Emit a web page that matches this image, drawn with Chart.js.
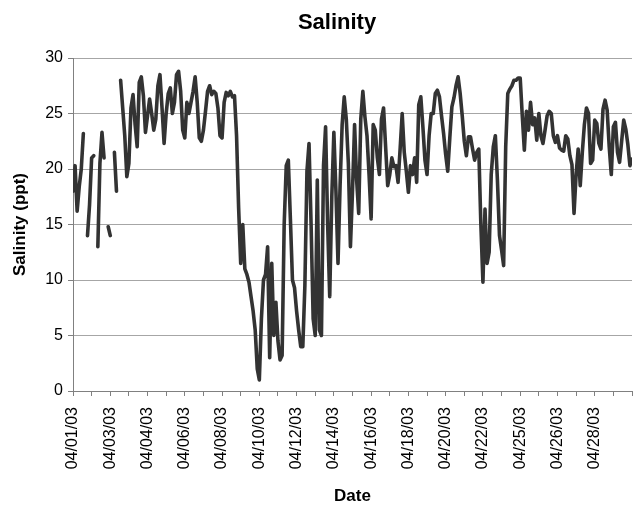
<!DOCTYPE html>
<html lang="en">
<head>
    <meta charset="UTF-8">
    <title>Salinity</title>
    <script src="https://cdn.jsdelivr.net/npm/chart.js"></script>
    <style>
        body { margin: 0; background: #fff; }
        .chart-container { width: 640px; height: 506px; position: relative; }
    </style>
</head>
<body>
    <div class="chart-container">
        <canvas id="chart"></canvas>
    </div>

    <script>
        // date labels sit on every second tick mark of the category axis
        const dateLabels = ['04/01/03', '04/03/03', '04/04/03', '04/06/03', '04/08/03',
            '04/10/03', '04/12/03', '04/14/03', '04/16/03', '04/18/03',
            '04/20/03', '04/22/03', '04/25/03', '04/26/03', '04/28/03'];
        const tickCount = 30;
        const pointsPerTick = 9;

        // salinity readings (ppt), null = missing record
        const salinity = [
            18.0, 20.3, 16.2, 18.4, 20.0, 23.2, null, 14.0, 16.8, 21.0,
            21.2, null, 13.0, 20.5, 23.3, 21.0, null, 14.8, 14.0, null,
            21.5, 18.0, null, 28.0, 25.5, 23.0, 19.3, 20.5, 25.5, 26.7,
            24.0, 22.0, 27.8, 28.3, 26.6, 23.3, 24.8, 26.3, 25.0, 23.5,
            24.5, 27.5, 28.5, 25.5, 22.3, 25.0, 26.8, 27.3, 25.0, 26.0,
            28.5, 28.8, 27.0, 23.5, 22.8, 26.0, 25.0, 26.0, 27.0, 28.3,
            26.0, 22.8, 22.5, 23.5, 25.2, 27.0, 27.5, 26.7, 27.0, 26.8,
            25.5, 23.0, 22.8, 26.0, 26.9, 26.6, 27.0, 26.5, 26.6, 23.0,
            16.5, 11.5, 15.0, 11.0, 10.5, 9.8, 8.5, 7.2, 5.5, 2.0,
            1.0, 6.5, 10.0, 10.5, 13.0, 3.0, 11.5, 5.0, 8.0, 4.5,
            2.8, 3.2, 15.0, 20.3, 20.8, 15.5, 10.0, 9.3, 7.2, 5.5,
            4.0, 4.0, 9.5, 19.8, 22.3, 15.0, 6.5, 5.0, 19.0, 5.5,
            5.0, 20.3, 23.8, 15.0, 8.5, 17.5, 23.3, 18.0, 11.5, 18.5,
            24.0, 26.5, 24.5, 20.5, 13.0, 18.0, 24.0, 19.0, 16.0, 24.5,
            27.0, 24.7, 23.0, 19.5, 15.5, 24.0, 23.5, 21.0, 19.5, 24.5,
            25.5, 22.0, 18.5, 19.5, 21.0, 20.2, 20.3, 18.8, 21.8, 25.0,
            21.5, 19.8, 17.9, 20.3, 19.5, 21.0, 18.8, 25.8, 26.5, 23.8,
            20.8, 19.5, 23.0, 25.0, 25.0, 26.8, 27.1, 26.5, 24.8, 23.2,
            21.3, 19.8, 22.8, 25.6, 26.4, 27.5, 28.3, 26.8, 24.8, 22.5,
            21.2, 22.9, 22.9, 21.8, 20.8, 21.5, 21.8, 15.0, 9.8, 16.4,
            11.5, 12.5, 19.5, 22.0, 23.0, 19.0, 14.0, 12.7, 11.3, 22.0,
            26.8, 27.2, 27.5, 28.0, 28.0, 28.2, 28.2, 24.8, 21.7, 25.2,
            23.5, 26.0, 24.0, 24.6, 22.6, 25.0, 23.0, 22.3, 23.5, 24.8,
            25.2, 25.0, 23.0, 22.4, 23.0, 21.9, 21.7, 21.6, 23.0, 22.7,
            21.2, 20.4, 16.0, 19.5, 21.8, 18.5, 21.5, 24.0, 25.5, 25.0,
            20.5, 20.8, 24.4, 24.1, 22.3, 21.8, 25.4, 26.2, 25.3, 22.0,
            19.5, 23.8, 24.2, 21.5, 20.6, 22.5, 24.4, 23.6, 22.2, 20.3,
            20.9
        ];

        const fontFamily = '"Liberation Sans", Arial, sans-serif';
        const axisGray = '#808080';

        const points = salinity.map((v, i) => ({ x: i / pointsPerTick, y: v }));

        // main title drawn by hand so it can sit off-centre like the original
        const titlePlugin = {
            id: 'salinityTitle',
            afterDraw(chart) {
                const ctx = chart.ctx;
                ctx.save();
                ctx.font = 'bold 22px ' + fontFamily;
                ctx.fillStyle = '#000';
                ctx.textAlign = 'center';
                ctx.textBaseline = 'middle';
                ctx.fillText('Salinity', 337, 23);
                ctx.restore();
            }
        };

        const ctx = document.getElementById('chart').getContext('2d');
        new Chart(ctx, {
            type: 'line',
            data: {
                datasets: [{
                    label: 'Salinity',
                    data: points,
                    borderColor: '#333333',
                    borderWidth: 3.6,
                    borderJoinStyle: 'round',
                    borderCapStyle: 'round',
                    tension: 0,
                    pointRadius: 0,
                    spanGaps: false,
                }]
            },
            options: {
                responsive: true,
                maintainAspectRatio: false,
                animation: false,
                layout: { padding: { top: 58, right: 8, left: 0, bottom: 0 } },
                scales: {
                    x: {
                        type: 'linear',
                        min: 0,
                        max: tickCount,
                        afterFit: (scale) => {
                            scale.height = 115;
                            scale.paddingLeft = 0;
                            scale.paddingRight = 0;
                        },
                        afterBuildTicks: (scale) => {
                            scale.ticks = [];
                            for (let t = 0; t <= tickCount; t++) scale.ticks.push({ value: t });
                        },
                        ticks: {
                            autoSkip: false,
                            maxRotation: 90,
                            minRotation: 90,
                            padding: 11,
                            color: '#000',
                            font: { family: fontFamily, size: 16 },
                            callback: (v) => (v % 2 === 0 && dateLabels[v / 2]) ? dateLabels[v / 2] : ''
                        },
                        grid: {
                            drawOnChartArea: false,
                            drawTicks: true,
                            tickLength: 5,
                            tickColor: axisGray,
                        },
                        border: { color: axisGray, width: 1 },
                        title: {
                            display: true,
                            text: 'Date',
                            color: '#000',
                            font: { family: fontFamily, size: 17, weight: 'bold' },
                            padding: { top: 0, bottom: -1 }
                        }
                    },
                    y: {
                        min: 0,
                        max: 30,
                        afterFit: (scale) => { scale.width = 73; },
                        ticks: {
                            stepSize: 5,
                            padding: 5,
                            color: '#000',
                            font: { family: fontFamily, size: 16 }
                        },
                        grid: {
                            color: '#a6a6a6',
                            tickLength: 5,
                            tickColor: axisGray,
                        },
                        border: { color: axisGray, width: 1 },
                        title: {
                            display: true,
                            text: 'Salinity (ppt)',
                            color: '#000',
                            font: { family: fontFamily, size: 17, weight: 'bold' },
                            padding: { top: 10, bottom: 0 }
                        }
                    }
                },
                plugins: {
                    legend: { display: false },
                    tooltip: { enabled: false },
                    title: { display: false }
                }
            },
            plugins: [titlePlugin]
        });
    </script>
</body>
</html>
